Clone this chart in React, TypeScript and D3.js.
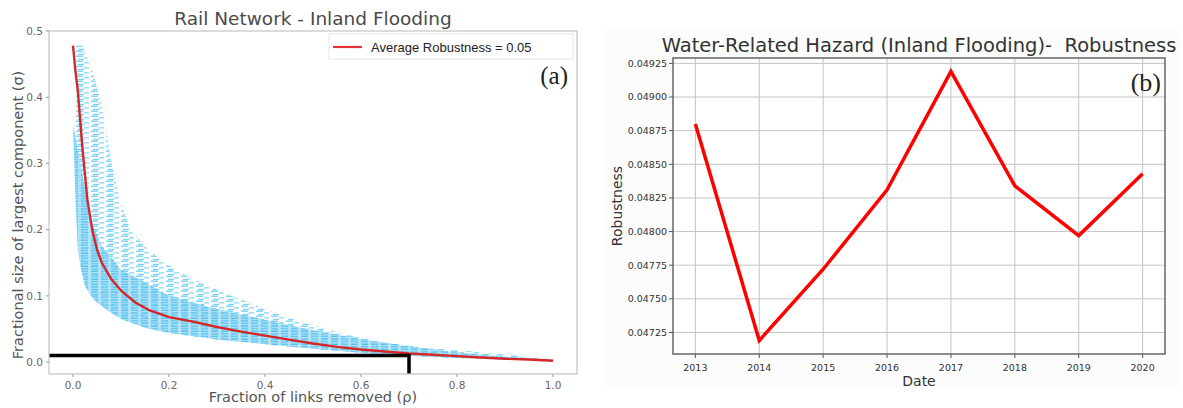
import * as d3 from "d3";

// ---- panel (a): rail network robustness curves ----
const rhoAvg = [0, 0.005, 0.01, 0.02, 0.03, 0.04, 0.05, 0.06, 0.08, 0.1, 0.13, 0.16, 0.2, 0.25, 0.3, 0.35, 0.4, 0.45, 0.5, 0.55, 0.6, 0.65, 0.7, 0.75, 0.8, 0.85, 0.9, 0.95, 1.0];
const sigmaAvg = [0.478, 0.44, 0.41, 0.32, 0.245, 0.2, 0.17, 0.15, 0.125, 0.108, 0.09, 0.078, 0.068, 0.061, 0.053, 0.046, 0.04, 0.034, 0.028, 0.023, 0.019, 0.016, 0.013, 0.011, 0.009, 0.007, 0.005, 0.004, 0.002];

// outer (sparse) envelope of the individual simulation runs
const rhoUpper = [0, 0.02, 0.04, 0.06, 0.08, 0.1, 0.12, 0.15, 0.19, 0.25, 0.33, 0.4, 0.47, 0.55, 0.64, 0.75, 0.85, 0.95, 1.0];
const sigmaUpper = [0.478, 0.478, 0.44, 0.39, 0.3, 0.24, 0.2, 0.175, 0.15, 0.125, 0.1, 0.08, 0.062, 0.045, 0.03, 0.021, 0.015, 0.008, 0.004];
// dense core of the runs
const rhoCore = [0, 0.02, 0.04, 0.06, 0.1, 0.15, 0.2, 0.3, 0.4, 0.5, 0.6, 0.7, 0.8, 0.9, 1.0];
const sigmaCore = [0.36, 0.28, 0.21, 0.175, 0.14, 0.12, 0.1, 0.08, 0.064, 0.048, 0.035, 0.024, 0.015, 0.008, 0.004];
const rhoLower = [0, 0.005, 0.01, 0.017, 0.025, 0.037, 0.05, 0.072, 0.1, 0.15, 0.2, 0.3, 0.4, 0.5, 0.6, 0.7, 0.8, 0.9, 1.0];
const sigmaLower = [0.478, 0.25, 0.17, 0.14, 0.115, 0.1, 0.09, 0.078, 0.065, 0.052, 0.044, 0.034, 0.027, 0.02, 0.014, 0.009, 0.006, 0.004, 0.002];

const xTicksA = [0, 0.2, 0.4, 0.6, 0.8, 1.0];
const yTicksA = [0, 0.1, 0.2, 0.3, 0.4, 0.5];
const cutRho = 0.7;
const cutSigma = 0.01;
const avgRobustness = 0.05;

// ---- panel (b): robustness per year ----
const years = [2013, 2014, 2015, 2016, 2017, 2018, 2019, 2020];
const robustness = [0.0488, 0.04719, 0.04772, 0.04831, 0.04919, 0.04834, 0.04797, 0.04843];
const yTicksB = [0.04725, 0.0475, 0.04775, 0.048, 0.04825, 0.0485, 0.04875, 0.049, 0.04925];

const font = "DejaVu Sans, sans-serif";

export default function App() {
  const width = 1183;
  const height = 408;

  // panel a scales
  const xa = d3.scaleLinear().domain([-0.05, 1.05]).range([49, 577]);
  const ya = d3.scaleLinear().domain([-0.018, 0.5]).range([374, 31]);
  const lineA = d3.line<[number, number]>().x(d => xa(d[0])).y(d => ya(d[1]));
  const avgPts: [number, number][] = rhoAvg.map((r, i) => [r, sigmaAvg[i]]);
  const lowerRev = rhoLower.map((r, i) => [r, sigmaLower[i]] as [number, number]).reverse();
  const outerPts: [number, number][] = [
    ...rhoUpper.map((r, i) => [r, sigmaUpper[i]] as [number, number]),
    ...lowerRev,
  ];
  const corePts: [number, number][] = [
    ...rhoCore.map((r, i) => [r, sigmaCore[i]] as [number, number]),
    ...lowerRev.filter(d => d[1] < 0.3),
  ];

  // panel b scales
  const xb = d3.scaleLinear().domain([2012.65, 2020.35]).range([673, 1165]);
  const yb = d3.scaleLinear().domain([0.04709, 0.04929]).range([354, 58]);
  const lineB = d3.line<number>().x((_, i) => xb(years[i])).y(d => yb(d));
  const fmtB = d3.format(".5f");

  const [xa0, xa1] = xa.range();
  const [ya0, ya1] = ya.range();
  const [xb0, xb1] = xb.range();
  const [yb0, yb1] = yb.range();

  return (
    <svg width={width} height={height} style={{ position: "absolute", left: 0, top: 0, background: "#fff" }} fontFamily={font}>
      <defs>
        <pattern id="sparse" width={15} height={5} patternUnits="userSpaceOnUse">
          <rect x={1} y={0.5} width={7} height={1.3} fill="#5cc8f4" />
          <rect x={9} y={2.2} width={5} height={1.3} fill="#7fd4f6" />
          <rect x={3} y={3.8} width={6} height={1.2} fill="#6ccff5" />
        </pattern>
        <pattern id="dense" width={10} height={2.6} patternUnits="userSpaceOnUse">
          <rect x={0} y={0} width={10} height={2.6} fill="#a8e0f8" />
          <rect x={1} y={0.3} width={7} height={1.4} fill="#45bdf0" />
        </pattern>
        <filter id="soft">
          <feGaussianBlur stdDeviation={0.45} />
        </filter>
        <clipPath id="clipA">
          <rect x={xa0} y={ya1} width={xa1 - xa0} height={ya0 - ya1} />
        </clipPath>
      </defs>

      {/* ===== panel (a) ===== */}
      <text x={313} y={25} textAnchor="middle" fontSize={18.5} fill="#4a4a4a">Rail Network - Inland Flooding</text>
      <g clipPath="url(#clipA)">
        <g filter="url(#soft)">
          <path d={lineA(outerPts) + "Z"} fill="url(#sparse)" opacity={0.9} />
          <path d={lineA(corePts) + "Z"} fill="url(#dense)" opacity={0.85} />
        </g>
        <path d={lineA(avgPts) ?? ""} fill="none" stroke="#d62728" strokeWidth={2.4} strokeLinejoin="round" />
        <path
          d={`M${xa0},${ya(cutSigma)}H${xa(cutRho)}V${ya0}`}
          fill="none"
          stroke="#000"
          strokeWidth={3.5}
        />
      </g>
      <rect x={xa0} y={ya1} width={xa1 - xa0} height={ya0 - ya1} fill="none" stroke="#c8c8c8" strokeWidth={1.3} />
      {yTicksA.map(t => (
        <g key={"ya" + t}>
          <line x1={xa0 - 3} x2={xa0} y1={ya(t)} y2={ya(t)} stroke="#999" />
          <text x={xa0 - 6} y={ya(t)} dy="0.35em" textAnchor="end" fontSize={10.5} fill="#666">{t.toFixed(1)}</text>
        </g>
      ))}
      {xTicksA.map(t => (
        <g key={"xa" + t}>
          <line x1={xa(t)} x2={xa(t)} y1={ya0} y2={ya0 + 3} stroke="#999" />
          <text x={xa(t)} y={ya0 + 15} textAnchor="middle" fontSize={10.5} fill="#666">{t.toFixed(1)}</text>
        </g>
      ))}
      <text x={313} y={402} textAnchor="middle" fontSize={14.5} fill="#555">Fraction of links removed (ρ)</text>
      <text transform={`translate(23,215) rotate(-90)`} textAnchor="middle" fontSize={14.5} fill="#555">
        Fractional size of largest component (σ)
      </text>
      {/* legend */}
      <rect x={329} y={34} width={244} height={25} fill="#fff" stroke="#e6e6e6" />
      <line x1={333} x2={362} y1={47} y2={47} stroke="#e8303a" strokeWidth={2.2} />
      <text x={371} y={47} dy="0.35em" fontSize={13} fontFamily="Liberation Sans, Arial, sans-serif" fill="#222">
        Average Robustness = {avgRobustness.toFixed(2)}
      </text>
      <text x={568} y={84} textAnchor="end" fontSize={25} fontFamily="Liberation Serif, serif" fill="#222">(a)</text>

      {/* ===== panel (b) ===== */}
      <rect x={603} y={30} width={578} height={358} fill="#fcfcfc" />
      <text x={919} y={52} textAnchor="middle" fontSize={19.5} fill="#333">{"Water-Related Hazard (Inland Flooding)-\u00a0 Robustness"}</text>
      <rect x={xb0} y={yb1} width={xb1 - xb0} height={yb0 - yb1} fill="#fff" />
      {yTicksB.map(t => (
        <g key={"yb" + t}>
          <line x1={xb0} x2={xb1} y1={yb(t)} y2={yb(t)} stroke="#c4c4c4" strokeWidth={1} />
          <line x1={xb0 - 4} x2={xb0} y1={yb(t)} y2={yb(t)} stroke="#555" />
          <text x={xb0 - 6} y={yb(t)} dy="0.35em" textAnchor="end" fontSize={9.5} fill="#333">{fmtB(t)}</text>
        </g>
      ))}
      {years.map(t => (
        <g key={"xb" + t}>
          <line x1={xb(t)} x2={xb(t)} y1={yb0} y2={yb1} stroke="#c4c4c4" strokeWidth={1} />
          <line x1={xb(t)} x2={xb(t)} y1={yb0} y2={yb0 + 4} stroke="#555" />
          <text x={xb(t)} y={yb0 + 17} textAnchor="middle" fontSize={9.5} fill="#333">{t}</text>
        </g>
      ))}
      <path d={lineB(robustness) ?? ""} fill="none" stroke="#f00" strokeWidth={3.5} strokeLinejoin="miter" />
      <rect x={xb0} y={yb1} width={xb1 - xb0} height={yb0 - yb1} fill="none" stroke="#666" strokeWidth={1.5} />
      <text x={919} y={386} textAnchor="middle" fontSize={14} fill="#333">Date</text>
      <text transform={`translate(622,${(yb0 + yb1) / 2}) rotate(-90)`} textAnchor="middle" fontSize={14} fill="#333">Robustness</text>
      <text x={1161} y={91} textAnchor="end" fontSize={26} fontFamily="Liberation Serif, serif" fill="#222">(b)</text>
    </svg>
  );
}
